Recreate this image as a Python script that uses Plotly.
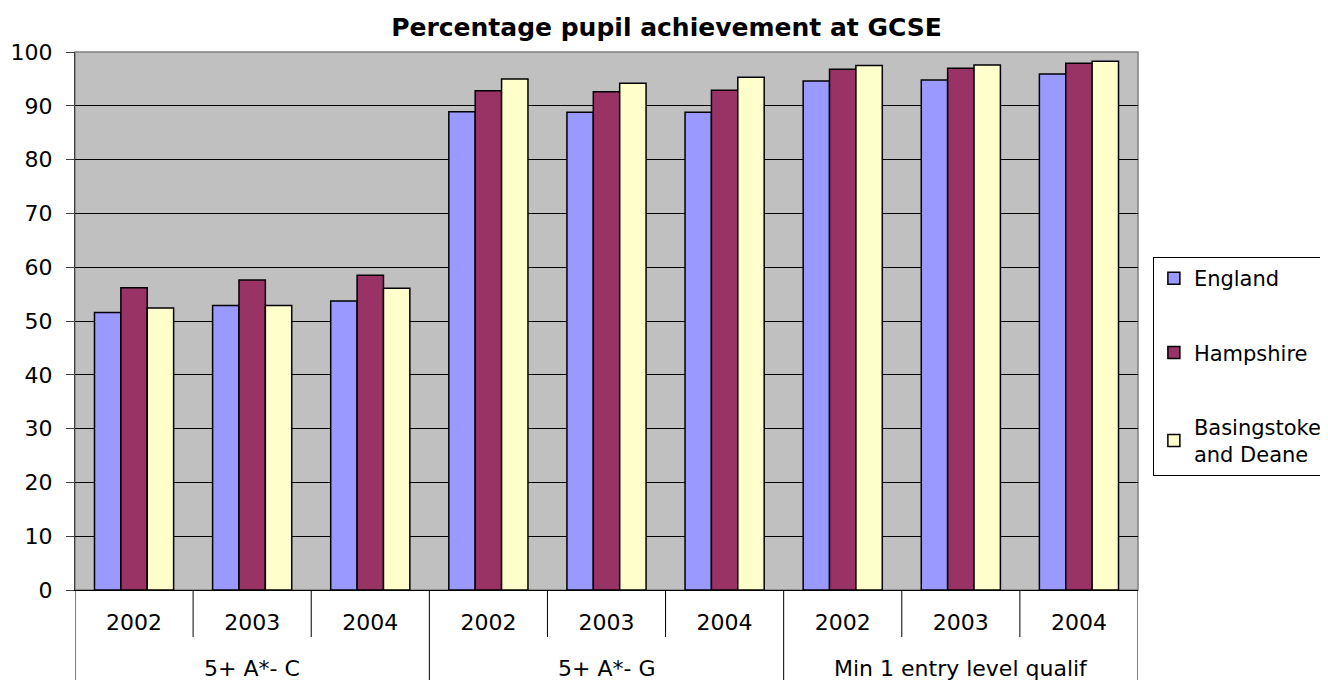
"""Grouped bar chart: percentage pupil achievement at GCSE."""

import plotly.graph_objects as go

# ── Data ───────────────────────────────────────────────────────────────────
MEASURES = ["5+ A*- C", "5+ A*- G", "Min 1 entry level qualif"]
YEARS = ["2002", "2003", "2004"]

ENGLAND = [51.6, 52.9, 53.7, 88.9, 88.8, 88.8, 94.6, 94.8, 95.9]
HAMPSHIRE = [56.2, 57.6, 58.5, 92.8, 92.6, 92.9, 96.8, 97.0, 97.9]
BASINGSTOKE = [52.4, 52.9, 56.1, 95.0, 94.2, 95.3, 97.5, 97.6, 98.3]

SERIES = [
    ("England", ENGLAND, "#9999FF"),
    ("Hampshire", HAMPSHIRE, "#993366"),
    ("Basingstoke<br>and Deane", BASINGSTOKE, "#FFFFCC"),
]

FONT = "DejaVu Sans, Verdana, sans-serif"

# ── Geometry (page body has an 8px margin) ─────────────────────────────────
W, H = 1320, 672
M_L, M_R, M_T, M_B = 67, 190, 44, 90
PLOT_H = H - M_T - M_B

# one slot per (measure, year)
slots = list(range(len(MEASURES) * len(YEARS)))
year_labels = [y for _ in MEASURES for y in YEARS]

fig = go.Figure()
for i, (name, values, color) in enumerate(SERIES):
    fig.add_trace(
        go.Bar(
            x=slots,
            y=values,
            name=name,
            legendgroup=f"g{i}",
            marker={"color": color, "line": {"color": "black", "width": 1.5}},
        )
    )

# category boundaries below the axis: short for years, long for measures
shapes = []
for b in range(len(slots) + 1):
    long_line = b % len(YEARS) == 0
    shapes.append(
        {
            "type": "line",
            "xref": "x",
            "yref": "paper",
            "x0": b - 0.5,
            "x1": b - 0.5,
            "y0": 0,
            "y1": -(M_B if long_line else 47) / PLOT_H,
            "line": {"color": "black", "width": 1},
        }
    )
# grey plot-area border
shapes.append(
    {
        "type": "rect",
        "xref": "paper",
        "yref": "paper",
        "x0": 0,
        "x1": 1,
        "y0": 0,
        "y1": 1,
        "layer": "between",
        "line": {"color": "#808080", "width": 1.5},
    }
)

annotations = [
    {
        "text": m,
        "xref": "x",
        "yref": "paper",
        "x": g * len(YEARS) + (len(YEARS) - 1) / 2,
        "y": -78 / PLOT_H,
        "yanchor": "middle",
        "showarrow": False,
        "font": {"size": 22},
    }
    for g, m in enumerate(MEASURES)
]

fig.update_layout(
    width=W,
    height=H,
    barmode="group",
    bargap=0.33,
    bargroupgap=0,
    plot_bgcolor="#C0C0C0",
    paper_bgcolor="white",
    font={"family": FONT, "color": "black", "size": 22},
    title={
        "text": "<b>Percentage pupil achievement at GCSE</b>",
        "x": 658.5 / W,
        "xanchor": "center",
        "y": 1 - 19 / H,
        "yanchor": "middle",
        "font": {"size": 25},
    },
    margin={"l": M_L, "r": M_R, "t": M_T, "b": M_B, "autoexpand": False},
    shapes=shapes,
    annotations=annotations,
    showlegend=True,
    legend={
        "x": 1.014,
        "y": 0.619,
        "xanchor": "left",
        "yanchor": "top",
        "bordercolor": "black",
        "borderwidth": 1,
        "bgcolor": "white",
        "tracegroupgap": 44,
        "traceorder": "grouped",
        "font": {"size": 21},
    },
    xaxis={
        "range": [-0.5, len(slots) - 0.5],
        "tickmode": "array",
        "tickvals": slots,
        "ticktext": year_labels,
        "ticks": "",
        "ticklabelstandoff": 13,
        "showline": True,
        "linecolor": "black",
        "linewidth": 1,
        "showgrid": False,
        "zeroline": False,
        "automargin": False,
    },
    yaxis={
        "range": [0, 100],
        "dtick": 10,
        "showline": True,
        "linecolor": "#404040",
        "ticks": "outside",
        "ticklen": 8,
        "tickcolor": "#404040",
        "ticklabelstandoff": 9,
        "gridcolor": "black",
        "gridwidth": 1,
        "zeroline": False,
        "automargin": False,
    },
)

fig.write_html("out.html")
